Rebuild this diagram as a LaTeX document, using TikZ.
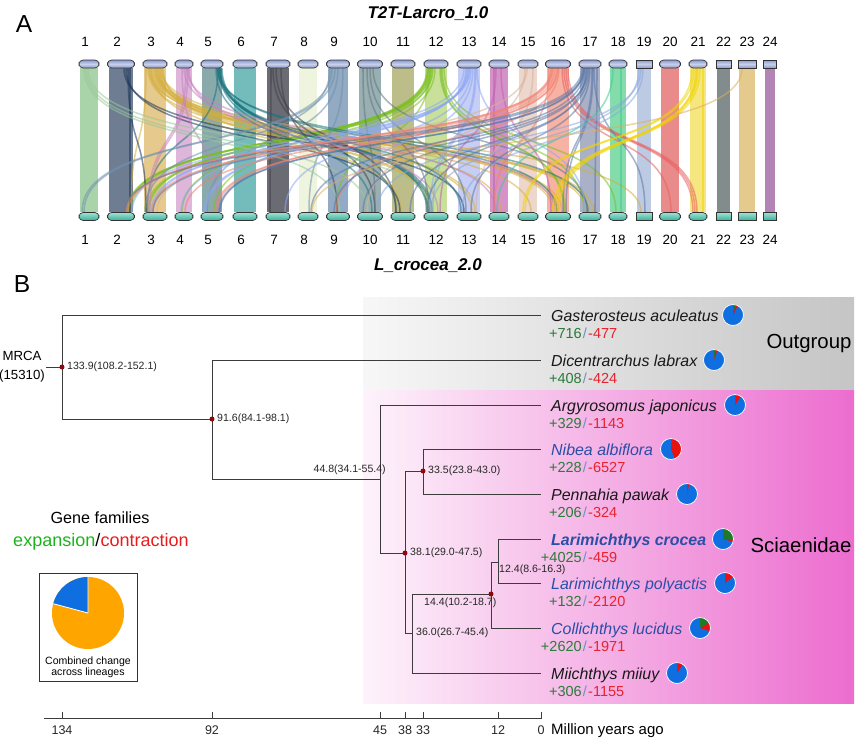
\documentclass[tikz,border=0pt]{standalone}
\usepackage{fontspec}
\setmainfont{Liberation Sans}
\usetikzlibrary{positioning}

\pgfdeclarelayer{back}
\pgfsetlayers{back,main}

% caps and bars
\definecolor{capT}{HTML}{8A9ACE}
\definecolor{capTl}{HTML}{C8D0EA}
\definecolor{capB}{HTML}{34B29A}
\definecolor{capBl}{HTML}{A4E0D3}
\definecolor{bar1}{HTML}{A9D3A9}
\definecolor{bar2}{HTML}{6E7D92}
\definecolor{bar3}{HTML}{E6C98C}
\definecolor{bar4}{HTML}{DDB6DA}
\definecolor{bar5}{HTML}{8AA9AB}
\definecolor{bar6}{HTML}{74BCBC}
\definecolor{bar7}{HTML}{6B6B73}
\definecolor{bar8}{HTML}{EEF4DD}
\definecolor{bar9}{HTML}{92AAC2}
\definecolor{bar10}{HTML}{9AAFB2}
\definecolor{bar11}{HTML}{BDBD8A}
\definecolor{bar12}{HTML}{C8E09A}
\definecolor{bar13}{HTML}{C6CEF5}
\definecolor{bar14}{HTML}{D592C9}
\definecolor{bar15}{HTML}{EDD6CB}
\definecolor{bar16}{HTML}{F8B2A3}
\definecolor{bar17}{HTML}{AAB1C6}
\definecolor{bar18}{HTML}{84DCAB}
\definecolor{bar19}{HTML}{BCCBE3}
\definecolor{bar20}{HTML}{E98B8B}
\definecolor{bar21}{HTML}{F6E67F}
\definecolor{bar22}{HTML}{838C8C}
\definecolor{bar23}{HTML}{E4CA8C}
\definecolor{bar24}{HTML}{B383B5}
% ribbons
\definecolor{rGo}{HTML}{D4AE3C}
\definecolor{rGr}{HTML}{7AC020}
\definecolor{rNa}{HTML}{1C3558}
\definecolor{rTe}{HTML}{1C7480}
\definecolor{rPk}{HTML}{C880C0}
\definecolor{rDk}{HTML}{404048}
\definecolor{rBg}{HTML}{6F92AE}
\definecolor{rGy}{HTML}{607880}
\definecolor{rLg}{HTML}{9AC89A}
\definecolor{rPe}{HTML}{8CA8F4}
\definecolor{rMg}{HTML}{C060B0}
\definecolor{rBe}{HTML}{D8B098}
\definecolor{rSa}{HTML}{F08070}
\definecolor{rRd}{HTML}{E86060}
\definecolor{rSl}{HTML}{5A78A8}
\definecolor{rMi}{HTML}{40C890}
\definecolor{rLb}{HTML}{8AA8E0}
\definecolor{rYe}{HTML}{F0D400}
\definecolor{rTa}{HTML}{D8B060}
% tree
\definecolor{branch}{HTML}{3C3C3C}
\definecolor{dotred}{HTML}{8B0A0A}
\definecolor{spblue}{HTML}{2B4EA6}
\definecolor{vgreen}{HTML}{2C7A3A}
\definecolor{vred}{HTML}{E8222E}
\definecolor{vslash}{HTML}{6F90C6}
\definecolor{pieblue}{HTML}{0F6FE0}
\definecolor{piegreen}{HTML}{1E7A28}
\definecolor{piered}{HTML}{E81010}
\definecolor{pieorange}{HTML}{FFA500}
\definecolor{expc}{HTML}{1DB31D}
\definecolor{conc}{HTML}{E81C1C}
\definecolor{outL}{HTML}{F7F7F7}
\definecolor{outR}{HTML}{C5C5C5}
\definecolor{sciL}{HTML}{FDF3FB}
\definecolor{sciR}{HTML}{EC6DCF}

% pie of gene family changes: centre, radius, expansion, contraction
\newcommand{\famPie}[4]{%
  \pgfmathsetmacro{\ga}{90-#3/15310*360}%
  \pgfmathsetmacro{\ra}{\ga-#4/15310*360}%
  \fill[pieblue] (#1) circle[radius=#2];
  \fill[piegreen] (#1) -- ++(90:#2) arc[start angle=90, end angle=\ga, radius=#2] -- cycle;
  \fill[piered] (#1) -- ++(\ga:#2) arc[start angle=\ga, end angle=\ra, radius=#2] -- cycle;
  \draw[white, line width=0.6pt] (#1) circle[radius=#2];
}

\begin{document}
\begin{tikzpicture}[x=0.03cm, y=-0.03cm,
    topcap/.style={draw=black!80, line width=0.6pt, inner sep=0, minimum height=0.24cm,
      top color=capT, bottom color=capT, middle color=capTl},
    botcap/.style={draw=black!80, line width=0.6pt, inner sep=0, minimum height=0.24cm,
      top color=capBl, bottom color=capB},
    rib/.style={line width=1.3pt, opacity=.55},
    chrnum/.style={font=\fontsize{11.5}{12}\selectfont, anchor=base, inner sep=0},
    br/.style={draw=branch, line width=0.8pt},
    dot/.style={circle, fill=dotred, inner sep=0, minimum size=0.15cm},
    age/.style={font=\fontsize{9}{10}\selectfont, text=black!85, inner sep=0},
    sp/.style={font=\fontsize{13.6}{15}\selectfont\itshape, anchor=base west, inner sep=0},
    val/.style={font=\fontsize{12.4}{14}\selectfont, inner sep=0},
    tick/.style={font=\fontsize{10.7}{12}\selectfont, text=black!85, inner sep=0}]
    \useasboundingbox (0,0) rectangle (859,744);

    % ---- A: synteny
    \node[font=\fontsize{21}{24}\selectfont] (labA) at (24,24) {A};
    \node[font=\fontsize{14.5}{16}\selectfont\bfseries\itshape, anchor=base] (ttop) at (428,18) {T2T-Larcro\_1.0};
    \node[font=\fontsize{14.5}{16}\selectfont\bfseries\itshape, anchor=base] (tbot) at (428,270) {L\_crocea\_2.0};

    \foreach \n/\x/\w/\r in {1/89/20/3.5, 2/121/27/3.5, 3/155/24/3.5, 4/184/18/3.5, 5/212/22/3.5,
        6/245/24/3.5, 7/278/24/3.5, 8/308/20/3.5, 9/338/23/3.5, 10/370/25/3.5, 11/403/24/3.5,
        12/436/24/3.5, 13/469/24/3.5, 14/499/20/3.5, 15/528/20/3.5, 16/558/25/3.5, 17/590/22/3.5,
        18/618/18/3.5, 19/644/16/0, 20/670/21/3.5, 21/698/18/3.5, 22/723.5/15/0, 23/747/18/0, 24/770/13/0}{
        \node[topcap, minimum width=\w*0.03cm, rounded corners=\r pt] (t\n) at (\x,64) {};
        \node[botcap, minimum width=\w*0.03cm, rounded corners=\r pt] (b\n) at (\x,216.5) {};
        \pgfmathsetmacro{\lx}{\x-4*(\n<10)}
        \node[chrnum] (nt\n) at (\lx,46) {\n};
        \node[chrnum] (nb\n) at (\lx,244) {\n};
        \begin{pgfonlayer}{back}
            \fill[bar\n] ([xshift=1.2pt]t\n.south west) rectangle ([xshift=-1.2pt]b\n.north east);
        \end{pgfonlayer}
    }

    \begin{pgfonlayer}{back}
    \foreach \i/\j/\c/\a/\b in {3/16/rGo/-6/-5, 3/16/rGo/-3/-2, 3/16/rGo/0/1, 3/17/rGo/2/-4, 3/17/rGo/4/-1,
        3/13/rGo/-7/3, 3/12/rGo/5/-7, 3/14/rGo/7/2, 3/19/rGo/6/-3, 3/2/rGo/-9/10, 3/12/rGo/8/-4,
        3/15/rGo/-5/3, 3/16/rGo/-1/4, 3/17/rGo/1/3, 3/13/rGo/3/6, 3/11/rGo/-4/-2,
        12/2/rGr/-9/8, 12/2/rGr/-7/10, 12/2/rGr/-5/6, 12/3/rGr/-8/-6, 12/3/rGr/-3/-9, 12/5/rGr/-1/2,
        12/17/rGr/6/-6, 12/18/rGr/8/-2, 12/16/rGr/4/6, 12/9/rGr/-6/-2,
        12/2/rGr/-8/7, 12/3/rGr/-6/-7, 12/4/rGr/-4/-2, 12/16/rGr/5/7,
        2/11/rNa/5/-3, 2/3/rNa/7/-9, 2/2/rNa/9/9, 2/13/rNa/3/-5,
        5/12/rTe/8/-8, 5/12/rTe/9/-6, 5/12/rTe/10/-4, 5/11/rTe/7/-7, 5/3/rTe/6/-8, 5/10/rTe/4/2,
        5/13/rTe/6/-8, 5/17/rTe/5/-2, 5/12/rTe/8/-9, 5/16/rTe/7/-1,
        4/3/rPk/2/-7, 4/3/rPk/4/-5, 4/12/rPk/5/2, 4/14/rPk/0/-3, 4/5/rPk/-2/6, 4/16/rPk/3/-3,
        7/10/rDk/-5/5, 7/11/rDk/-2/-7, 7/7/rDk/-7/-8, 7/9/rDk/3/-1,
        9/1/rBg/-6/-7, 9/1/rBg/-3/-5, 9/5/rBg/0/-5, 9/8/rBg/5/1, 9/3/rBg/-8/-10,
        10/12/rGy/-3/-7, 10/13/rGy/0/-3, 10/10/rGy/-7/5, 10/17/rGy/3/-3,
        1/9/rLg/-5/2, 1/12/rLg/-1/-5, 1/10/rLg/-3/-2,
        13/5/rPe/-3/-8, 13/3/rPe/0/-4, 13/7/rPe/2/7, 13/9/rPe/4/5, 13/12/rPe/6/-6, 13/12/rPe/7/-3,
        13/17/rPe/8/-5, 13/2/rPe/-5/11, 13/4/rPe/-1/-3, 13/5/rPe/-2/-6, 13/3/rPe/1/-2,
        14/16/rMg/2/-7, 14/12/rMg/-3/4, 14/14/rMg/-5/-5,
        15/13/rBe/5/7, 15/10/rBe/-3/-3, 15/3/rBe/-1/2,
        16/2/rSa/-7/5, 16/3/rSa/-5/-3, 16/4/rSa/-3/1, 16/5/rSa/-1/3, 16/9/rSa/1/-2, 16/21/rRd/6/-5,
        16/21/rRd/8/-3, 16/21/rRd/10/-1, 16/20/rRd/4/1, 16/14/rSa/-9/-5, 16/2/rSa/-6/7, 16/5/rSa/0/5,
        17/5/rSl/-7/7, 17/8/rSl/-5/3, 17/10/rSl/-3/-7, 17/12/rSl/-4/-9, 17/13/rSl/0/2, 17/16/rSl/2/5,
        17/19/rSl/4/1, 17/17/rSl/7/5, 17/11/rSl/-1/7, 17/3/rSl/-6/-2, 17/16/rSl/3/8,
        17/5/rSl/-6/8, 17/9/rSl/-2/-4, 17/2/rSl/-8/4,
        18/14/rMi/-5/-2, 18/18/rMi/3/3,
        19/12/rLb/-5/-5, 19/10/rLb/-3/7, 19/13/rLb/-1/-7,
        21/15/rYe/-6/-5, 21/15/rYe/-4/-3, 21/16/rYe/-2/-3, 21/16/rYe/0/-1, 21/16/rYe/2/1, 21/21/rYe/5/5,
        21/16/rYe/-1/-5,
        23/8/rTa/-5/4}{
        \draw[rib, \c] ([xshift=\a*0.03cm]t\i.south) .. controls +(0,85) and +(0,-85) .. ([xshift=\b*0.03cm]b\j.north);
    }
    \end{pgfonlayer}

    % ---- B: tree
    \node[font=\fontsize{21}{24}\selectfont] (labB) at (22,284) {B};
    \begin{pgfonlayer}{back}
        \shade[left color=outL, right color=outR] (363,297) rectangle (854,390);
        \shade[left color=sciL, right color=sciR] (363,390) rectangle (854,703);
    \end{pgfonlayer}
    \node[font=\fontsize{17.4}{20}\selectfont] (outg) at (809,343) {Outgroup};
    \node[font=\fontsize{17.4}{20}\selectfont] (scia) at (801,545) {Sciaenidae};

    \node[align=center, font=\fontsize{11.3}{16}\selectfont, inner sep=1pt] (mrca) at (22,367) {MRCA\\(15310)};
    \node[dot] (n134) at (62,367) {};
    \node[dot] (n92) at (212,419) {};
    \coordinate (n45) at (380,479);
    \node[dot] (n38) at (405,553) {};
    \node[dot] (n33) at (423,471) {};
    \coordinate (n36) at (412,633);
    \node[dot] (n14) at (491,594) {};
    \coordinate (n12) at (498,562);

    \node[age, anchor=west] (a134) at (67,367) {133.9(108.2-152.1)};
    \node[age, anchor=west] (a92) at (217,419) {91.6(84.1-98.1)};
    \node[age, anchor=east] (a45) at (386,470) {44.8(34.1-55.4)};
    \node[age, anchor=west] (a33) at (428,471) {33.5(23.8-43.0)};
    \node[age, anchor=west] (a38) at (410,553) {38.1(29.0-47.5)};
    \node[age, anchor=west] (a36) at (416,633) {36.0(26.7-45.4)};
    \node[age, anchor=west] (a14) at (424,603) {14.4(10.2-18.7)};
    \node[age, anchor=west] (a12) at (499,570) {12.4(8.6-16.3)};

    \foreach \nm/\y/\e/\c/\px in {gas/315/716/477/733, dic/360/408/424/714, arg/405/329/1143/735,
        nib/449/228/6527/671, pen/494/206/324/687, cro/539/4025/459/723, pol/583/132/2120/725,
        col/628/2620/1971/700, mii/673/306/1155/677}{
        \coordinate (l\nm) at (541,\y);
        \node[val, anchor=base east, text=vgreen] (e\nm) at (582,\y+23) {+\e};
        \node[val, anchor=base, text=vslash] (s\nm) at (585,\y+23) {/};
        \node[val, anchor=base west, text=vred] (c\nm) at (588,\y+23) {-\c};
        \coordinate (p\nm) at (\px,\y);
        \famPie{p\nm}{0.315cm}{\e}{\c}
    }
    \node[sp, text=black!90] (gas) at (551,321) {Gasterosteus aculeatus};
    \node[sp, text=black!90] (dic) at (551,366) {Dicentrarchus labrax};
    \node[sp, text=black!90] (arg) at (551,411) {Argyrosomus japonicus};
    \node[sp, text=spblue] (nib) at (551,455) {Nibea albiflora};
    \node[sp, text=black!90] (pen) at (551,500) {Pennahia pawak};
    \node[sp, text=spblue, font=\fontsize{13.6}{15}\selectfont\bfseries\itshape] (cro) at (551,545) {Larimichthys crocea};
    \node[sp, text=spblue] (pol) at (551,589) {Larimichthys polyactis};
    \node[sp, text=spblue] (col) at (551,634) {Collichthys lucidus};
    \node[sp, text=black!90] (mii) at (551,679) {Miichthys miiuy};

    \begin{pgfonlayer}{back}
        \draw[br] (mrca) -- (n134.center);
        \draw[br] (n134.center) |- (lgas);
        \draw[br] (n134.center) |- (n92.center);
        \draw[br] (n92.center) |- (ldic);
        \draw[br] (n92.center) |- (n45);
        \draw[br] (n45) |- (larg);
        \draw[br] (n45) |- (n38.center);
        \draw[br] (n38.center) |- (n33.center);
        \draw[br] (n38.center) |- (n36);
        \draw[br] (n33.center) |- (lnib);
        \draw[br] (n33.center) |- (lpen);
        \draw[br] (n36) |- (n14.center);
        \draw[br] (n36) |- (lmii);
        \draw[br] (n14.center) |- (n12);
        \draw[br] (n14.center) |- (lcol);
        \draw[br] (n12) |- (lcro);
        \draw[br] (n12) |- (lpol);
    \end{pgfonlayer}

    % time axis
    \draw[br] (44,718) -- (541,718);
    \foreach \x/\t in {62/134, 212/92, 380/45, 405/38, 423/33, 498/12, 541/0}{
        \draw[br] (\x,712) -- (\x,719);
        \node[tick] (ax\t) at (\x,730) {\t};
    }
    \node[anchor=west, inner sep=0, font=\fontsize{12.8}{14}\selectfont] (mya) at (551,731) {Million years ago};

    % legend
    \node[font=\fontsize{13.8}{15}\selectfont] (gfam) at (100,518) {Gene families};
    \node[font=\fontsize{15.4}{17}\selectfont] (expcon) at (101,542) {\textcolor{expc}{expansion}/\textcolor{conc}{contraction}};
    \node[draw=black!80, line width=0.8pt, minimum width=2.94cm, minimum height=3.24cm] (legbox) at (88,627) {};
    \coordinate (lp) at (88,613);
    \fill[pieorange] (lp) circle[radius=1.08cm];
    \fill[pieblue] (lp) -- ++(90:1.08cm) arc[start angle=90, end angle=165, radius=1.08cm] -- cycle;
    \draw[white, line width=0.7pt] (lp) -- ++(90:1.08cm) (lp) -- ++(165:1.08cm);
    \node[font=\fontsize{9}{10}\selectfont, align=center, inner sep=0] (legtxt) at (88,667) {Combined change\\[-1pt]across lineages};
\end{tikzpicture}
\end{document}
